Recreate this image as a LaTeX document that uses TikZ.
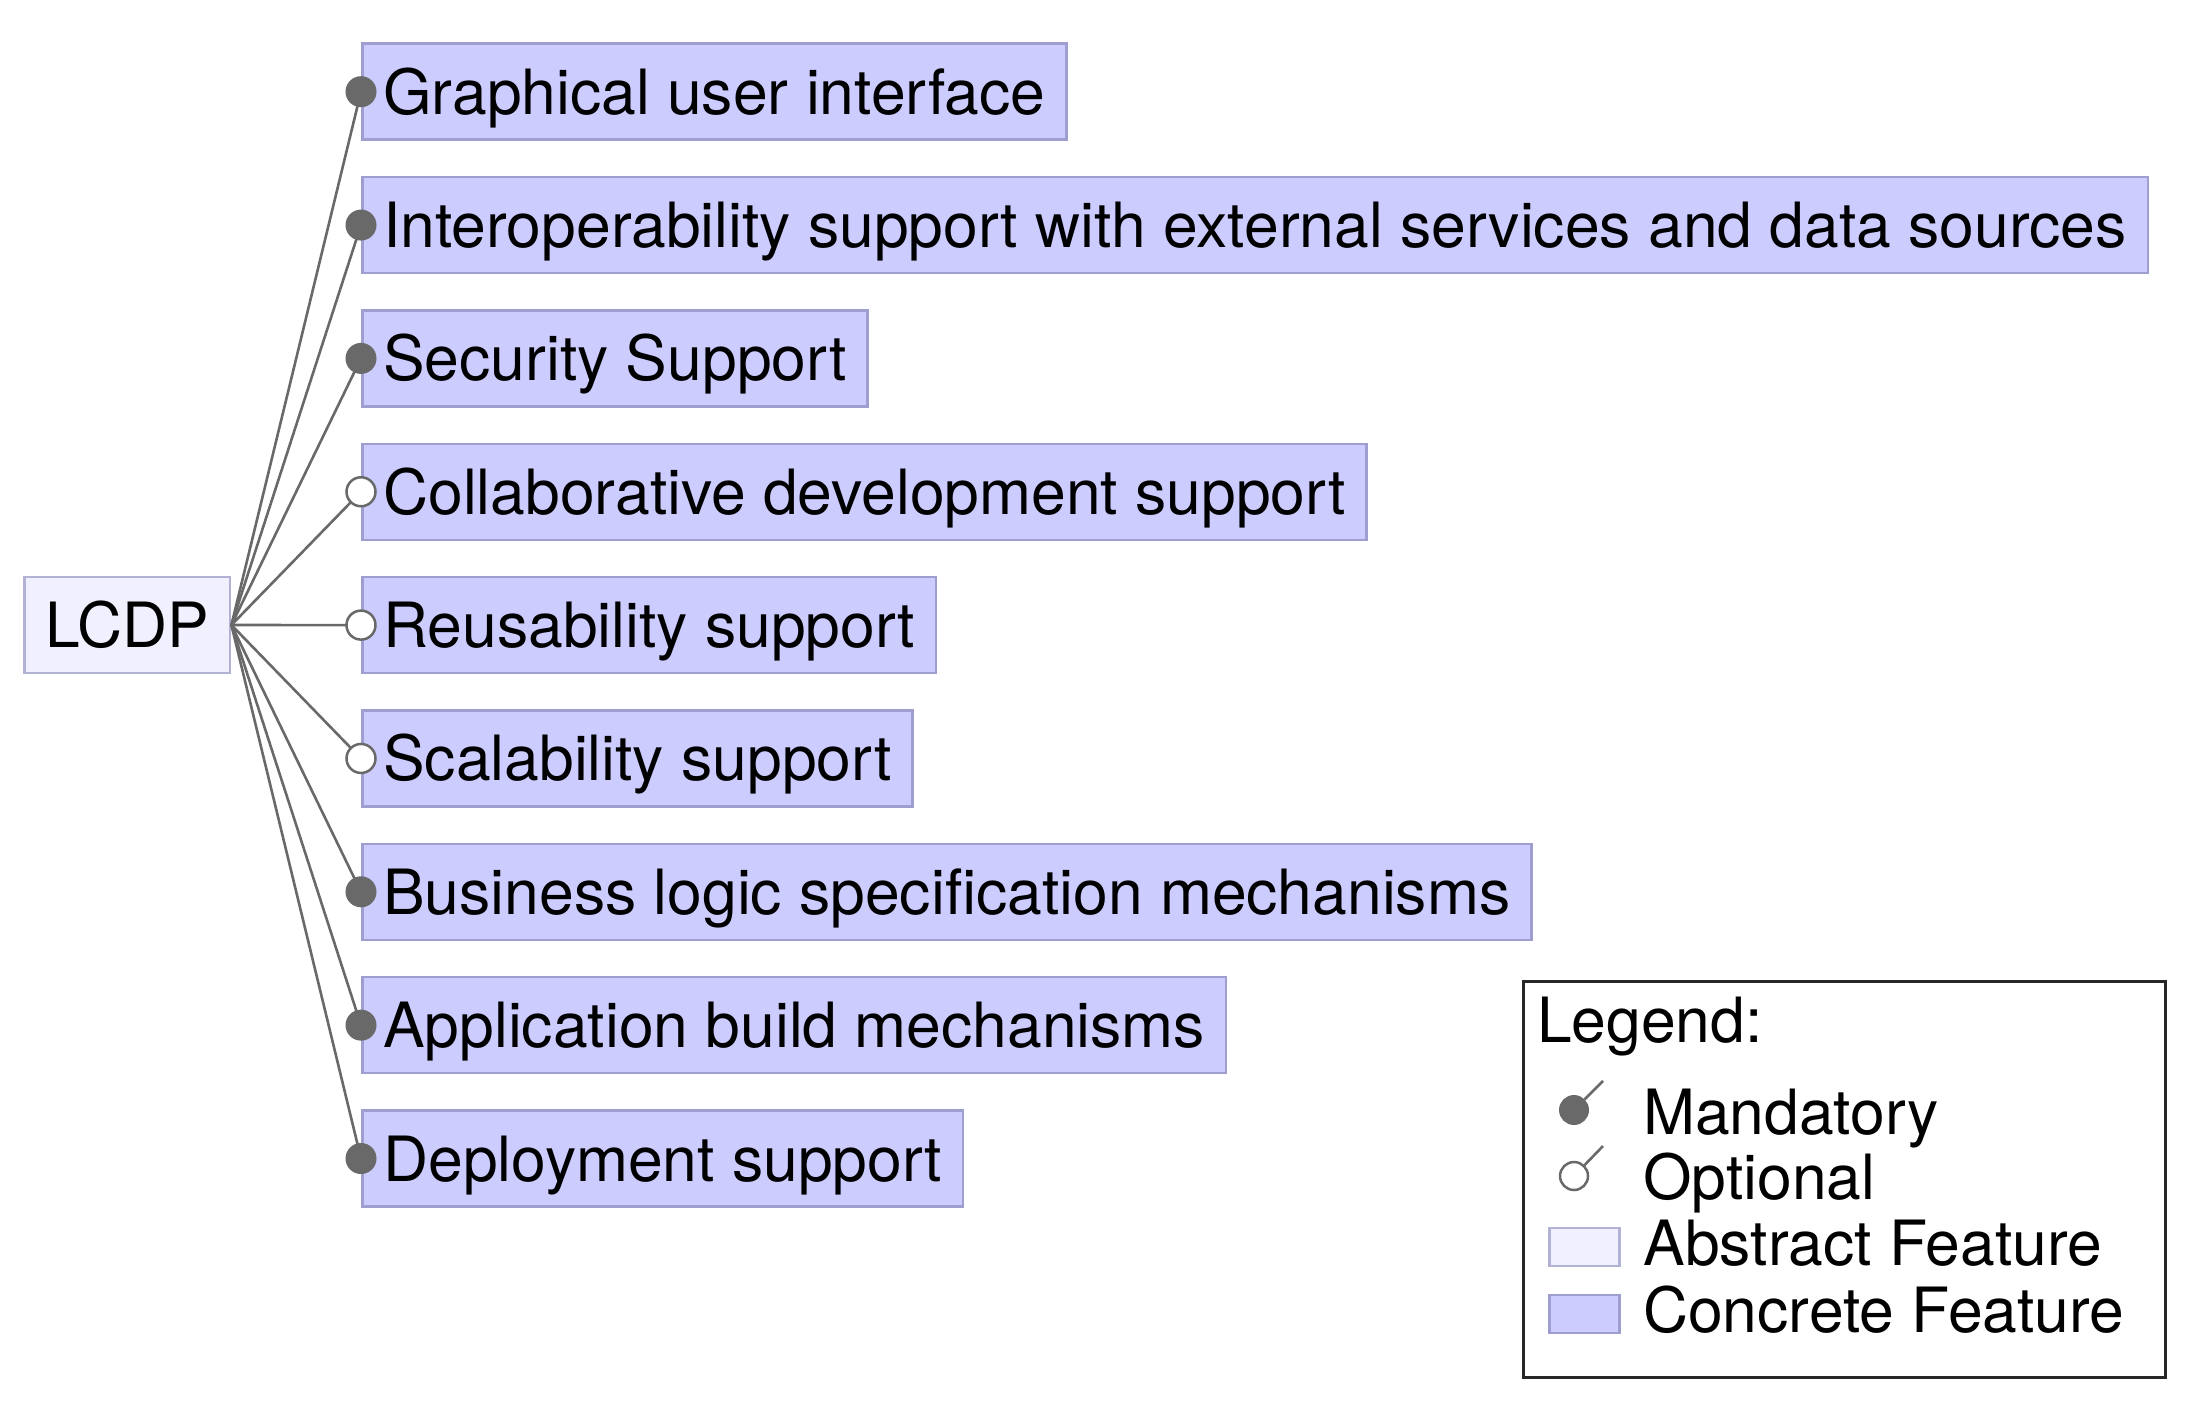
\documentclass[tikz,border=0pt]{standalone}
\usepackage{fontspec}
\setmainfont{TeX Gyre Heros}
\definecolor{concrete}{RGB}{204,204,255}
\definecolor{concreteborder}{RGB}{158,158,208}
\definecolor{abstractfill}{RGB}{240,240,255}
\definecolor{abstractborder}{RGB}{178,178,212}
\definecolor{edgegray}{RGB}{105,105,105}
\tikzset{
  featbase/.style={line width=2.5pt, anchor=west, minimum height=96pt,
    inner xsep=21pt, inner ysep=0pt, text height=45pt, text depth=0pt,
    font=\fontsize{62.4}{70}\selectfont},
  feat/.style={featbase, draw=concreteborder, fill=concrete},
  absfeat/.style={featbase, draw=abstractborder, fill=abstractfill},
  mand/.style={circle, fill=edgegray, draw=edgegray, line width=2pt, minimum size=29pt, inner sep=0pt},
  opt/.style={circle, fill=white, draw=edgegray, line width=2.5pt, minimum size=29pt, inner sep=0pt},
  conn/.style={draw=edgegray, line width=2.6pt},
  legtext/.style={anchor=base west, inner sep=0pt, font=\fontsize{62.4}{70}\selectfont},
}
\begin{document}
\begin{tikzpicture}[x=1pt,y=-1pt]
\useasboundingbox (0,0) rectangle (2195,1401);
\node[absfeat] (root) at (23,625) {LCDP};
\foreach \i/\t in {
  1/Graphical user interface,
  2/Interoperability support with external services and data sources,
  3/Security Support,
  4/Collaborative development support,
  5/Reusability support,
  6/Scalability support,
  7/Business logic specification mechanisms,
  8/Application build mechanisms,
  9/Deployment support}{
  \node[feat] (f\i) at (361,{91.7+133.35*(\i-1)}) {\t};
}
\foreach \i/\k in {1/mand,2/mand,3/mand,4/opt,5/opt,6/opt,7/mand,8/mand,9/mand}{
  \draw[conn] (root.east) -- (f\i.west);
  \node[\k] (c\i) at (f\i.west) {};
}
% legend
\node[draw=black!85, line width=2.5pt, minimum width=642pt, minimum height=396pt, anchor=north west, inner sep=0pt] (legend) at (1522,980) {};
\node[legtext] (lt) at (1537,1042) {Legend:};
\node[legtext] (lm) at (1643,1134) {Mandatory};
\node[legtext] (lo) at (1643,1199) {Optional};
\node[legtext] (la) at (1643,1265) {Abstract Feature};
\node[legtext] (lc) at (1643,1332) {Concrete Feature};
\coordinate (mtip) at (1603,1081);
\coordinate (otip) at (1603,1146);
\node[mand, minimum size=28pt] (lmi) at (1574,1110) {};
\node[opt, minimum size=28pt] (loi) at (1574,1176) {};
\draw[conn] (lmi) -- (mtip);
\draw[conn] (loi) -- (otip);
\node[absfeat, minimum width=70pt, minimum height=38pt, text height=0pt] (las) at (1548,1247) {};
\node[feat, minimum width=70pt, minimum height=38pt, text height=0pt] (lcs) at (1548,1314) {};
\end{tikzpicture}
\end{document}
